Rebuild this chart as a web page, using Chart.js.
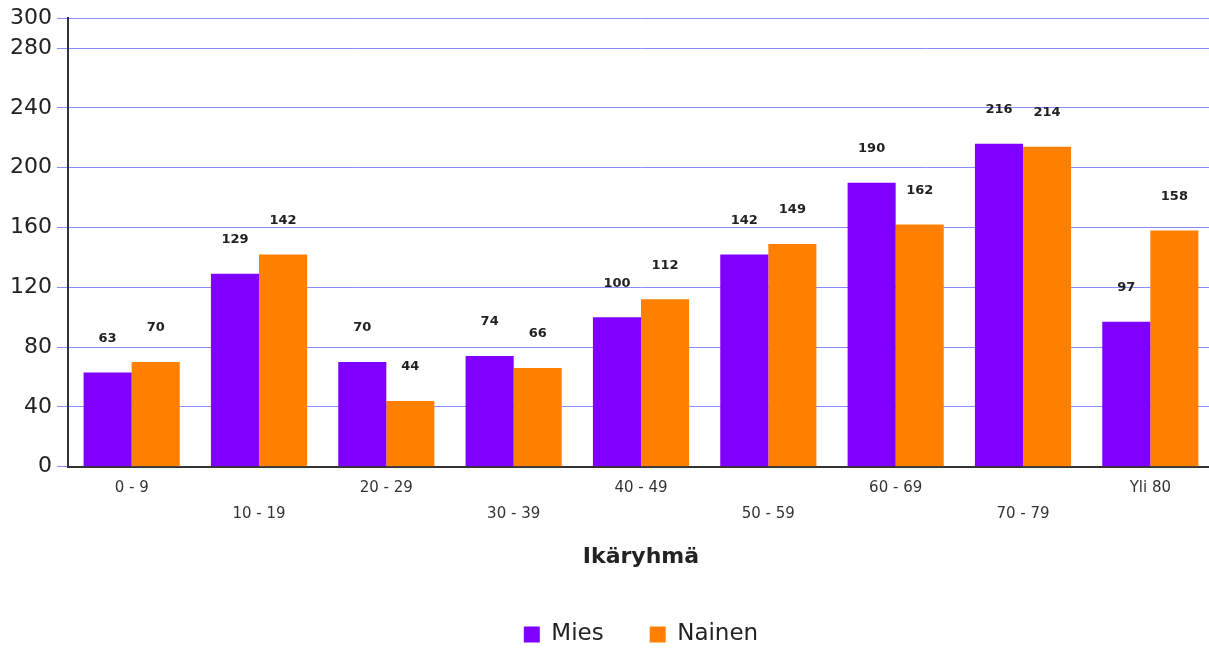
<!DOCTYPE html>
<html>
<head>
<meta charset="utf-8">
<script src="https://cdn.jsdelivr.net/npm/chart.js@4/dist/chart.umd.min.js"></script>
<style>
  html, body { margin: 0; padding: 0; background: #fff; overflow: hidden; }
  #wrap { width: 1214px; height: 649px; }
</style>
</head>
<body>
<div id="wrap"><canvas id="ageChart" width="1214" height="649"></canvas></div>
<script>
const categories = ['0 - 9', '10 - 19', '20 - 29', '30 - 39', '40 - 49', '50 - 59', '60 - 69', '70 - 79', 'Yli 80'];
const miesValues = [63, 129, 70, 74, 100, 142, 190, 216, 97];
const nainenValues = [70, 142, 44, 66, 112, 149, 162, 214, 158];
const yTickValues = [0, 40, 80, 120, 160, 200, 240, 280, 300];

const MIES_COLOR = '#8000ff';
const NAINEN_COLOR = '#ff8000';
const FONT = '"DejaVu Sans", sans-serif';

// values printed above each bar
const barValueLabels = {
  id: 'barValueLabels',
  afterDatasetsDraw(chart) {
    const { ctx } = chart;
    ctx.save();
    ctx.font = 'bold 13px ' + FONT;
    ctx.fillStyle = '#222';
    ctx.textAlign = 'center';
    ctx.textBaseline = 'middle';
    chart.data.datasets.forEach((ds, i) => {
      const meta = chart.getDatasetMeta(i);
      meta.data.forEach((bar, j) => {
        ctx.fillText(String(ds.data[j]), bar.x, bar.y - 34);
      });
    });
    ctx.restore();
  }
};

new Chart(document.getElementById('ageChart'), {
  type: 'bar',
  data: {
    labels: categories,
    datasets: [
      { label: 'Mies', data: miesValues, backgroundColor: MIES_COLOR, categoryPercentage: 0.755, barPercentage: 1 },
      { label: 'Nainen', data: nainenValues, backgroundColor: NAINEN_COLOR, categoryPercentage: 0.755, barPercentage: 1 },
    ],
  },
  options: {
    responsive: false,
    animation: false,
    devicePixelRatio: 1,
    layout: { padding: { left: 5, top: 6, right: 0, bottom: -7 } },
    plugins: {
      tooltip: { enabled: false },
      legend: {
        position: 'bottom',
        fullSize: false,
        labels: {
          boxWidth: 16, boxHeight: 16, padding: 46,
          color: '#222',
          font: { family: FONT, size: 23 },
        },
      },
    },
    scales: {
      x: {
        grid: { display: false },
        border: { display: true, color: '#333', width: 2 },
        ticks: {
          color: '#333',
          padding: 0,
          font: { family: FONT, size: 15, lineHeight: 1.73 },
          callback: (v, i) => i % 2 === 0 ? [categories[i], ''] : ['', categories[i]],
        },
        title: {
          display: true,
          text: 'Ikäryhmä',
          color: '#222',
          font: { family: FONT, size: 22, weight: 'bold' },
          padding: { top: 17, bottom: 7 },
        },
      },
      y: {
        min: 0,
        max: 300,
        afterBuildTicks: (scale) => { scale.ticks = yTickValues.map(v => ({ value: v })); },
        grid: { color: '#8a8aff', tickColor: '#8a8aff', tickLength: 11, lineWidth: 1 },
        border: { display: true, color: '#333', width: 2 },
        ticks: {
          color: '#222',
          padding: 5,
          font: { family: FONT, size: 22 },
        },
      },
    },
  },
  plugins: [barValueLabels],
});
</script>
</body>
</html>
